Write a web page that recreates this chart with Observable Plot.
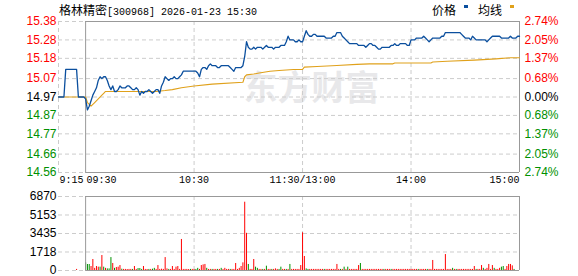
<!DOCTYPE html>
<html>
<head>
<meta charset="utf-8">
<script src="https://cdn.jsdelivr.net/npm/d3@7"></script>
<script src="https://cdn.jsdelivr.net/npm/@observablehq/plot@0.6"></script>
<style>
  html, body { margin: 0; padding: 0; background: #fff; }
  #wrap { position: relative; width: 578px; height: 276px; overflow: hidden; background: #fff; }
  #main, #vol { position: absolute; left: 0; }
  #main { top: 0; }
  #vol { top: 190px; }
  #title { position: absolute; left: 59px; top: 1px; white-space: nowrap; color: #000; }
  #legend { position: absolute; left: 432px; top: 1px; white-space: nowrap; color: #000; }
  .cjk { font-family: "Noto Sans CJK SC", sans-serif; font-size: 12px; line-height: 16px; }
  .mono { font-family: "Liberation Mono", monospace; font-size: 10px; line-height: 16px; }
  .sw { display: inline-block; width: 4px; height: 3px; vertical-align: 7px; margin: 0 10px 0 8px; }
</style>
</head>
<body>
<div id="wrap">
  <div id="main"></div>
  <div id="vol"></div>
  <div id="title"></div>
  <div id="legend"></div>
</div>
<script>
// ---------- data ----------
const stockName = "格林精密";
const stockCode = "300968";
const tradeDate = "2026-01-23";
const tradeTime = "15:30";
const legendNames = ["价格", "均线"];
const watermark = "东方财富";
const preClose = 14.97;

// price ticks (left) and percentage labels (right)
const priceTicks = [15.38, 15.28, 15.18, 15.07, 14.97, 14.87, 14.77, 14.66, 14.56];
const pctLabels = ["2.74%", "2.05%", "1.37%", "0.68%", "0.00%", "0.68%", "1.37%", "2.05%", "2.74%"];
const volTicks = [0, 1718, 3435, 5153, 6870];

// x axis: trading minute (0 = 09:30, 120 = 11:30/13:00, 240 = 15:00, negative = pre-market)
const xTickMinutes = [-15, 0, 60, 120, 180, 240];
const xTickLabels = ["9:15", "09:30", "10:30", "11:30/13:00", "14:00", "15:00"];
const xTickAnchors = ["start", "start", "middle", "middle", "middle", "end"];

// pre-market price points
const preMinutes = [-15, -12, -11, -5, -4, -1];
const prePrices = [14.97, 14.97, 15.12, 15.12, 14.97, 14.97];

// one price per trading minute 0..240
const prices = [
  14.96, 14.90, 14.92, 14.95, 14.98, 15.00, 15.02, 15.06, 15.08, 15.07,
  15.08, 15.08, 15.06, 15.03, 15.01, 15.03, 15.00, 15.00, 15.01, 15.03,
  15.02, 15.02, 15.02, 15.03, 15.03, 15.02, 15.01, 15.01, 15.02, 15.01,
  14.98, 15.00, 14.99, 15.00, 15.00, 15.01, 15.00, 14.99, 15.00, 15.01,
  15.01, 14.99, 15.03, 15.05, 15.08, 15.07, 15.06, 15.07, 15.07, 15.08,
  15.07, 15.07, 15.08, 15.09, 15.11, 15.11, 15.11, 15.11, 15.11, 15.11,
  15.11, 15.11, 15.10, 15.08, 15.12, 15.13, 15.13, 15.12, 15.14, 15.15,
  15.14, 15.14, 15.14, 15.13, 15.13, 15.14, 15.14, 15.14, 15.14, 15.14,
  15.13, 15.12, 15.11, 15.13, 15.13, 15.13, 15.13, 15.14, 15.19, 15.27,
  15.24, 15.23, 15.23, 15.24, 15.23, 15.24, 15.24, 15.24, 15.23, 15.24,
  15.25, 15.24, 15.24, 15.24, 15.23, 15.24, 15.24, 15.24, 15.25, 15.25,
  15.25, 15.27, 15.30, 15.28, 15.28, 15.28, 15.27, 15.27, 15.28, 15.27,
  15.27, 15.30, 15.33, 15.31, 15.30, 15.30, 15.31, 15.31, 15.30, 15.30,
  15.30, 15.30, 15.30, 15.29, 15.29, 15.29, 15.29, 15.30, 15.30, 15.32,
  15.32, 15.32, 15.30, 15.29, 15.28, 15.27, 15.26, 15.26, 15.26, 15.26,
  15.26, 15.25, 15.25, 15.25, 15.25, 15.24, 15.25, 15.26, 15.26, 15.25,
  15.25, 15.24, 15.23, 15.23, 15.24, 15.24, 15.24, 15.24, 15.24, 15.25,
  15.25, 15.26, 15.25, 15.25, 15.26, 15.26, 15.26, 15.26, 15.25, 15.25,
  15.28, 15.28, 15.28, 15.29, 15.29, 15.29, 15.29, 15.30, 15.29, 15.28,
  15.27, 15.28, 15.29, 15.29, 15.29, 15.29, 15.29, 15.30, 15.30, 15.32,
  15.32, 15.32, 15.32, 15.32, 15.32, 15.32, 15.32, 15.32, 15.31, 15.30,
  15.29, 15.29, 15.29, 15.28, 15.30, 15.29, 15.28, 15.28, 15.28, 15.28,
  15.28, 15.28, 15.27, 15.28, 15.29, 15.30, 15.30, 15.30, 15.30, 15.30,
  15.29, 15.29, 15.29, 15.29, 15.29, 15.30, 15.29, 15.29, 15.29, 15.30,
  15.30
];

// average price line
const avgMinutes = [-15, 0, 1, 3, 5, 7, 9, 10, 11, 39, 44, 48, 53, 60, 70, 87, 88, 89, 93, 96, 102, 107, 115, 120, 121, 128, 139, 150, 157, 170, 171, 191, 192, 200, 215, 227, 235, 240];
const avgValues = [14.97, 14.97, 14.94, 14.92, 14.94, 14.96, 14.98, 14.99, 15.00, 15.00, 15.005, 15.01, 15.02, 15.03, 15.04, 15.05, 15.08, 15.09, 15.095, 15.10, 15.11, 15.114, 15.119, 15.12, 15.132, 15.136, 15.141, 15.147, 15.15, 15.15, 15.155, 15.155, 15.16, 15.164, 15.17, 15.177, 15.183, 15.183];

// volume (lots) per trading minute 0..240, and direction (r = up, g = down)
const preVolMinute = -5;
const preVolume = 100;
const volumes = [
  710, 557, 557, 370, 1020, 200, 370, 310, 310, 1390,
  310, 200, 150, 150, 1200, 650, 200, 280, 310, 460,
  120, 100, 100, 90, 100, 100, 100, 370, 100, 180,
  180, 100, 370, 100, 90, 100, 100, 120, 200, 100,
  460, 100, 120, 100, 1200, 150, 100, 100, 370, 100,
  310, 370, 100, 2880, 100, 100, 100, 90, 100, 100,
  100, 100, 200, 100, 460, 520, 560, 200, 100, 100,
  100, 100, 100, 100, 100, 200, 100, 200, 100, 100,
  100, 100, 100, 650, 100, 200, 370, 710, 6340, 3450,
  560, 100, 100, 1020, 310, 200, 100, 100, 100, 100,
  400, 100, 100, 100, 100, 150, 100, 100, 310, 100,
  100, 100, 100, 560, 100, 100, 100, 100, 100, 460,
  3500, 1300, 150, 100, 100, 100, 100, 100, 100, 100,
  100, 100, 100, 100, 100, 100, 100, 100, 100, 560,
  100, 100, 100, 310, 100, 310, 100, 100, 100, 100,
  100, 460, 650, 100, 100, 100, 100, 100, 100, 100,
  100, 100, 100, 100, 100, 100, 100, 100, 100, 100,
  100, 100, 100, 100, 100, 100, 100, 100, 100, 100,
  100, 100, 100, 100, 100, 100, 100, 100, 100, 100,
  100, 100, 930, 100, 100, 100, 100, 100, 100, 1480,
  100, 100, 100, 200, 100, 100, 100, 100, 100, 100,
  100, 100, 100, 100, 100, 370, 100, 100, 100, 460,
  200, 100, 200, 560, 100, 460, 200, 100, 100, 200,
  310, 370, 100, 370, 560, 560, 430, 100, 0, 0,
  1240
];
const volDirs = [
  "gggrrrrrgr", "grgggrgrrr", "grrrrrgrrg", "ggrrrgrggr", "rrrrrrgrrr",
  "rrrrrrrrgr", "rggrrrrgrr", "grrgrgrrrr", "grrrrrrrrr", "grrrggrrgr",
  "grrgrrrggr", "rgrgrrrrrr", "rrggrrrrrr", "rrgrrrrrrr", "rgrgrgrrrr",
  "rrgrrrrrrr", "rrrrrgrrrg", "rrrrrrrrrr", "rrrrgrrrrg", "rrrrrrrrrr",
  "rrrgrgrrrr", "rrrrrrgrrr", "grrrrrgrrr", "ggrrrrrggg", "r"
].join("");

// ---------- styling ----------
const BLUE = "#0b4f9e";
const GOLD = "#e0a11b";
const RED = "#ff0000";
const GREEN = "#009000";
const GRID = "#cccccc";
const FRAME = "#999999";
const tickColor = v => v > preClose + 1e-9 ? RED : v < preClose - 1e-9 ? GREEN : "#000000";

// ---------- build tables ----------
const priceData = preMinutes.map((t, i) => ({t, p: prePrices[i]}))
  .concat(prices.map((p, t) => ({t, p})));
const avgData = avgMinutes.map((t, i) => ({t, p: avgValues[i]}));
const volData = [{t: preVolMinute, v: preVolume, c: RED}]
  .concat(volumes.map((v, t) => ({t, v, c: volDirs[t] === "g" ? GREEN : RED})))
  .filter(d => d.v > 0);
const xTicks = xTickMinutes.map((t, i) => ({t, label: xTickLabels[i], anchor: xTickAnchors[i]}));
const pctTicks = priceTicks.map((p, i) => ({p, label: pctLabels[i]}));

const X_DOMAIN = [-15, 240];
const open = 0, close = 240;
const dash = "4,3";

// ---------- main chart ----------
const mainChart = Plot.plot({
  width: 578, height: 190,
  marginLeft: 58, marginRight: 59, marginTop: 21, marginBottom: 18,
  x: {domain: X_DOMAIN, axis: null},
  y: {domain: [priceTicks[priceTicks.length - 1], priceTicks[0]], axis: null},
  color: {type: "identity"},
  style: {fontFamily: "Liberation Sans, Arial, sans-serif", fontSize: "12px", background: "white", overflow: "visible"},
  marks: [
    Plot.text([watermark], {frameAnchor: "top-left", textAnchor: "start", lineAnchor: "top",
      dx: 185, dy: 54, fontSize: 34, fontWeight: "bold",
      fill: "#e8e8ea", fontFamily: "Noto Sans CJK SC"}),
    Plot.ruleY(priceTicks, {stroke: GRID, strokeDasharray: dash}),
    Plot.ruleX([X_DOMAIN[0], 60, 120, 180], {stroke: GRID, strokeDasharray: dash}),
    Plot.ruleX([open, close], {stroke: FRAME}),
    Plot.ruleY([priceTicks[0], priceTicks[priceTicks.length - 1]], {x1: open, x2: close, stroke: FRAME}),
    Plot.line(avgData, {x: "t", y: "p", stroke: GOLD, strokeWidth: 1.1}),
    Plot.line(priceData, {x: "t", y: "p", stroke: BLUE, strokeWidth: 1.3}),
    Plot.text(priceTicks, {y: d => d, text: d => d.toFixed(2), frameAnchor: "left", dx: -2,
      textAnchor: "end", fill: d => tickColor(d), fontSize: 12}),
    Plot.text(pctTicks, {y: "p", text: "label", frameAnchor: "right", dx: 5,
      textAnchor: "start", fill: d => tickColor(d.p), fontSize: 12}),
    ...["start", "middle", "end"].map(a =>
      Plot.text(xTicks.filter(d => d.anchor === a), {x: "t", text: "label", frameAnchor: "bottom",
        dy: 10, dx: a === "start" ? 1 : 0, textAnchor: a, fill: "#000", fontSize: 10,
        fontFamily: "Liberation Mono, monospace"}))
  ]
});
document.getElementById("main").appendChild(mainChart);

// ---------- volume chart ----------
const volChart = Plot.plot({
  width: 578, height: 86,
  marginLeft: 58, marginRight: 59, marginTop: 6, marginBottom: 6,
  x: {domain: X_DOMAIN, axis: null},
  y: {domain: [volTicks[0], volTicks[volTicks.length - 1]], axis: null},
  color: {type: "identity"},
  style: {fontFamily: "Liberation Sans, Arial, sans-serif", fontSize: "12px", background: "white", overflow: "visible"},
  marks: [
    Plot.ruleY(volTicks, {stroke: GRID, strokeDasharray: dash}),
    Plot.ruleX([60, 120, 180], {stroke: GRID, strokeDasharray: dash}),
    Plot.ruleX(volData, {x: "t", y1: 0, y2: "v", stroke: "c", strokeWidth: 1}),
    Plot.ruleX([open, close], {stroke: FRAME}),
    Plot.ruleY([volTicks[0], volTicks[volTicks.length - 1]], {x1: open, x2: close, stroke: FRAME}),
    Plot.text(volTicks, {y: d => d, text: d => String(d), frameAnchor: "left", dx: -2,
      textAnchor: "end", fill: "#000", fontSize: 12})
  ]
});
document.getElementById("vol").appendChild(volChart);

// ---------- title & legend ----------
document.getElementById("title").innerHTML =
  `<span class="cjk">${stockName}</span><span class="mono">[${stockCode}] ${tradeDate} ${tradeTime}</span>`;
document.getElementById("legend").innerHTML =
  `<span class="cjk">${legendNames[0]}</span><span class="sw" style="background:${BLUE}"></span>` +
  `<span class="cjk">${legendNames[1]}</span><span class="sw" style="background:${GOLD}"></span>`;
</script>
</body>
</html>
